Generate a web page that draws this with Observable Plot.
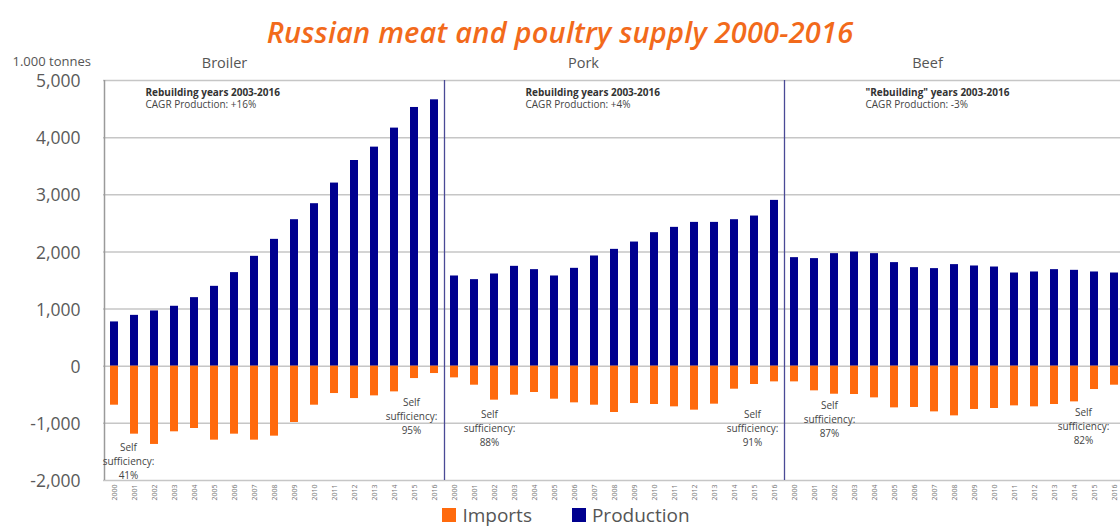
<!DOCTYPE html>
<html>
<head>
<meta charset="utf-8">
<script src="https://cdn.jsdelivr.net/npm/d3@7"></script>
<script src="https://cdn.jsdelivr.net/npm/@observablehq/plot@0.6"></script>
<style>
  html, body { margin: 0; padding: 0; background: #fff; }
  body { width: 1120px; height: 528px; overflow: hidden; font-family: "Open Sans", sans-serif; }
  #title { height: 52px; text-align: center; }
  #title span { display: block; padding-top: 16px; font-size: 29px; line-height: 32px; font-style: italic; font-weight: 600; color: #f26a1b; font-family: "Open Sans", sans-serif; letter-spacing: 0.2px; }
  #chart { width: 1130px; height: 456px; }
  #legend { height: 18px; margin-top: -2px; display: flex; justify-content: center; align-items: center; font-size: 19px; line-height: 18px; color: #555; padding-left: 12px; }
  #legend .sw { display: inline-block; width: 14px; height: 14px; margin-right: 6px; }
  #legend .item { display: flex; align-items: center; margin: 0 20px; }
</style>
</head>
<body>
<div id="title"><span>Russian meat and poultry supply 2000-2016</span></div>
<div id="chart"></div>
<div id="legend"></div>
<script>
const products = ["Broiler", "Pork", "Beef"];
const years = ["2000","2001","2002","2003","2004","2005","2006","2007","2008","2009","2010","2011","2012","2013","2014","2015","2016"];
const broilerProduction = [775, 890, 967, 1049, 1200, 1398, 1638, 1923, 2220, 2564, 2844, 3205, 3600, 3834, 4167, 4528, 4662];
const broilerImports = [-682, -1189, -1369, -1148, -1090, -1294, -1189, -1294, -1224, -985, -682, -478, -566, -519, -449, -216, -128];
const porkProduction = [1579, 1515, 1614, 1748, 1690, 1579, 1713, 1929, 2045, 2173, 2337, 2430, 2517, 2517, 2564, 2628, 2902];
const porkImports = [-204, -332, -594, -507, -460, -577, -641, -682, -810, -653, -670, -711, -769, -664, -402, -320, -274];
const beefProduction = [1900, 1883, 1970, 1998, 1970, 1813, 1725, 1708, 1778, 1754, 1736, 1631, 1649, 1690, 1678, 1649, 1631];
const beefImports = [-274, -431, -490, -495, -554, -729, -722, -799, -869, -757, -740, -694, -711, -670, -624, -408, -332];
const yTicks = [5000, 4000, 3000, 2000, 1000, 0, -1000, -2000];
const seriesNames = ["Imports", "Production"];
const seriesColors = ["#ff6a0d", "#00008f"];
const yUnit = "1.000 tonnes";
const panelTitles = [["Broiler", "Broiler 2005", 10], ["Pork", "Pork 2006", 9], ["Beef", "Beef 2006", 13]];
const cagrNotes = [
  ["Broiler 2002", "Rebuilding years 2003-2016", "CAGR Production: +16%"],
  ["Pork 2004", "Rebuilding years 2003-2016", "CAGR Production: +4%"],
  ["Beef 2004", "\"Rebuilding\" years 2003-2016", "CAGR Production: -3%"]
];
const selfNotes = [
  ["Broiler 2001", -1650, "Self\nsufficiency:\n41%", -6],
  ["Broiler 2015", -862, "Self\nsufficiency:\n95%", -3],
  ["Pork 2002", -1072, "Self\nsufficiency:\n88%", -5],
  ["Pork 2015", -1072, "Self\nsufficiency:\n91%", -2],
  ["Beef 2002", -915, "Self\nsufficiency:\n87%", -5],
  ["Beef 2015", -1037, "Self\nsufficiency:\n82%", -11]
];

const valuesByProduct = {
  Broiler: [broilerProduction, broilerImports],
  Pork: [porkProduction, porkImports],
  Beef: [beefProduction, beefImports]
};
const keys = [];
const rows = [];
for (const p of products) {
  years.forEach((y, i) => {
    const k = `${p} ${y}`;
    keys.push(k);
    rows.push({key: k, series: "Production", value: valuesByProduct[p][0][i]});
    rows.push({key: k, series: "Imports", value: valuesByProduct[p][1][i]});
  });
}
const fmt = d => d3.format(",")(d).replace("\u2212", "-");
const halfStep = 10;

const chart = Plot.plot({
  width: 1130,
  height: 456,
  marginLeft: 103,
  marginRight: 4,
  marginTop: 28,
  marginBottom: 28,
  style: {fontFamily: "'Open Sans', sans-serif", background: "white"},
  x: {domain: keys, paddingInner: 0.58, paddingOuter: 0.29},
  y: {domain: [-2000, 5000]},
  color: {domain: seriesNames, range: seriesColors},
  marks: [
    Plot.ruleY(yTicks, {stroke: "#c6c6c6", strokeWidth: 1.5}),
    Plot.ruleX([keys[0]], {y1: -2000, y2: 5000, dx: -halfStep, stroke: "#9a9a9a", strokeWidth: 1.5}),
    Plot.ruleX(["Broiler 2016", "Pork 2016"], {y1: -2000, y2: 5000, dx: halfStep, stroke: "#4a4a96", strokeWidth: 1.3}),
    Plot.barY(rows, {x: "key", y: "value", fill: "series"}),
    Plot.axisY({ticks: yTicks, tickFormat: fmt, tickSize: 0, tickPadding: 23, fontSize: 17.5, dy: 1, color: "#5a5a5a", label: null}),
    Plot.axisX({tickFormat: d => d.split(" ")[1], tickRotate: -90, tickSize: 0, tickPadding: 4, fontSize: 7, color: "#777", label: null}),
    Plot.text([yUnit], {frameAnchor: "top-left", text: d => d, dx: -91, dy: -24, fontSize: 13, fill: "#555", textAnchor: "start"}),
    ...panelTitles.map(d => Plot.text([d], {x: () => d[1], frameAnchor: "top", text: () => d[0], dx: d[2], dy: -23, fontSize: 14.5, fill: "#555"})),
    Plot.text(cagrNotes, {x: d => d[0], frameAnchor: "top", text: d => d[1], textAnchor: "start", dx: -9, dy: 8, fontSize: 10, fontWeight: "bold", fill: "#333"}),
    Plot.text(cagrNotes, {x: d => d[0], frameAnchor: "top", text: d => d[2], textAnchor: "start", dx: -9, dy: 20, fontSize: 10, fill: "#444"}),
    ...selfNotes.map(d => Plot.text([d], {x: () => d[0], y: () => d[1], text: () => d[2], dx: d[3], fontSize: 10, lineHeight: 1.4, fill: "#444"}))
  ]
});
document.getElementById("chart").appendChild(chart);

const legend = document.getElementById("legend");
seriesNames.forEach((n, i) => {
  const item = document.createElement("span");
  item.className = "item";
  const sw = document.createElement("span");
  sw.className = "sw";
  sw.style.background = seriesColors[i];
  item.appendChild(sw);
  item.appendChild(document.createTextNode(n));
  legend.appendChild(item);
});
</script>
</body>
</html>
